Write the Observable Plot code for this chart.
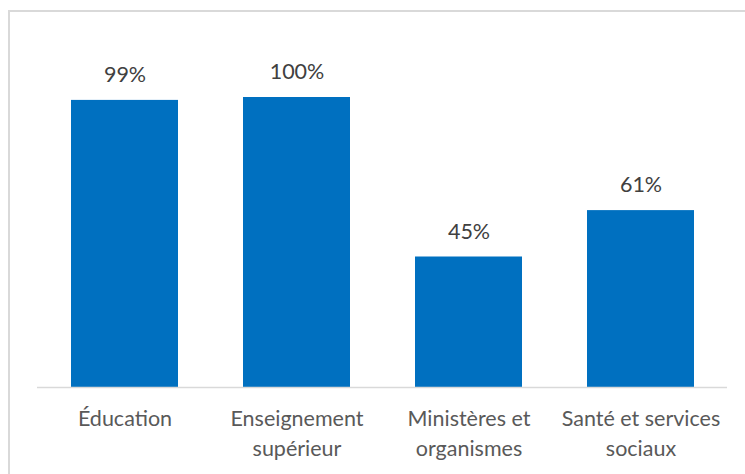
<!DOCTYPE html>
<html>
<head>
<meta charset="utf-8">
<script src="https://cdn.jsdelivr.net/npm/d3@7"></script>
<script src="https://cdn.jsdelivr.net/npm/@observablehq/plot@0.6"></script>
<style>
  html, body { margin: 0; padding: 0; background: #fff; overflow: hidden; }
  #wrap { position: relative; width: 745px; height: 474px; }
  #frame { position: absolute; left: 8px; top: 10px; width: 800px; height: 600px; border-top: 2px solid #d9d9d9; border-left: 2px solid #d9d9d9; box-sizing: border-box; }
  #chart { position: absolute; left: 0; top: 0; }
</style>
</head>
<body>
<div id="wrap"><div id="frame"></div><div id="chart"></div></div>
<script>
const categories = ["Éducation", "Enseignement supérieur", "Ministères et organismes", "Santé et services sociaux"];
const tickLabels = ["Éducation", "Enseignement\nsupérieur", "Ministères et\norganismes", "Santé et services\nsociaux"];
const values = [0.99, 1.00, 0.45, 0.61];
const valueLabels = ["99%", "100%", "45%", "61%"];

const data = categories.map((c, i) => ({cat: c, value: values[i], label: valueLabels[i]}));
const labelOf = new Map(categories.map((c, i) => [c, tickLabels[i]]));

const chart = Plot.plot({
  width: 745,
  height: 474,
  marginLeft: 37,
  marginRight: 18,
  marginTop: 97,
  marginBottom: 87,
  style: {fontFamily: "Lato, 'Open Sans', sans-serif", background: "transparent"},
  x: {domain: categories, paddingInner: 0.38, paddingOuter: 0.19, axis: null},
  y: {domain: [0, 1], axis: null},
  marks: [
    Plot.barY(data, {x: "cat", y: "value", fill: "#0070C0"}),
    Plot.ruleY([0], {stroke: "#d9d9d9", strokeWidth: 1.5}),
    Plot.text(data, {x: "cat", y: "value", text: "label", dy: -25, fill: "#404040", fontSize: 21.5}),
    Plot.axisX({domain: categories, tickSize: 0, tickPadding: 17, fontSize: 21.5, fill: "#595959", lineHeight: 1.4, textAnchor: "middle", tickFormat: d => labelOf.get(d), label: null})
  ]
});
document.getElementById("chart").appendChild(chart);
</script>
</body>
</html>
